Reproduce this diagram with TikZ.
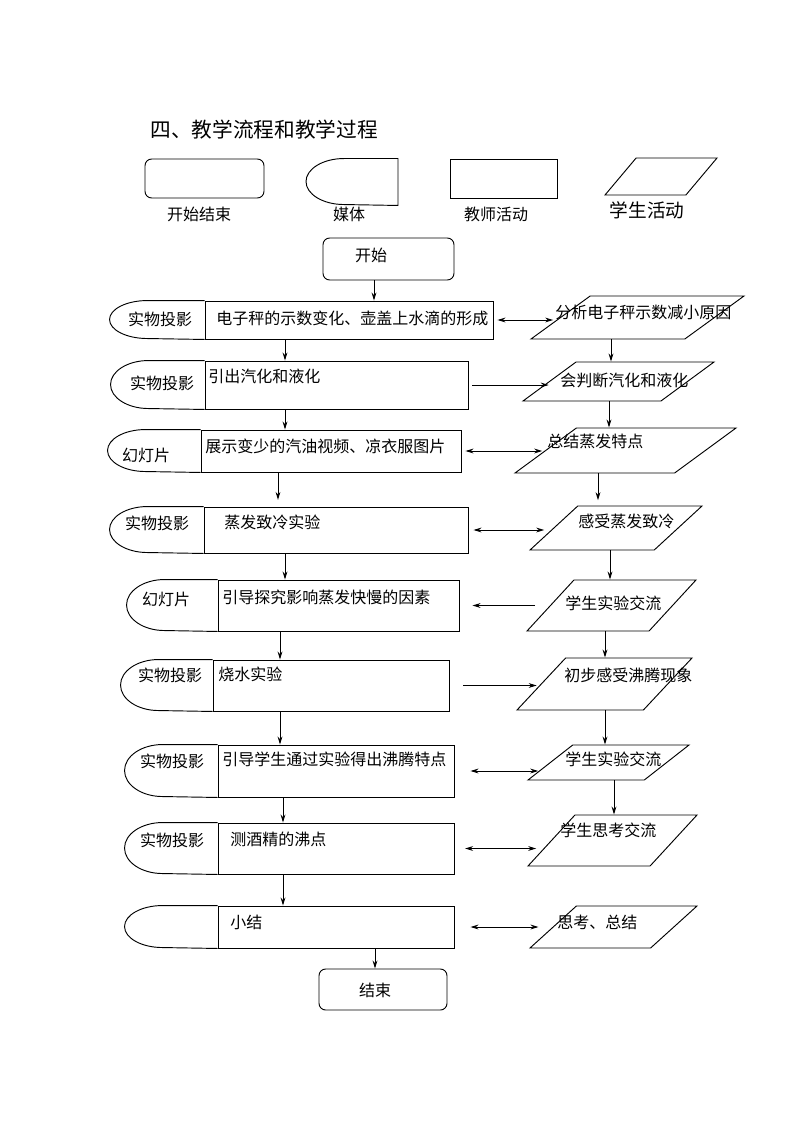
\documentclass[tikz,border=0pt]{standalone}
\usepackage{fontspec}
\newfontfamily\cjk{Noto Sans CJK SC}
\usetikzlibrary{arrows.meta,shapes.geometric}

\begin{document}
\begin{tikzpicture}[
    x=0.75pt, y=-0.75pt, line width=0.7pt,
    endbox/.style 2 args={draw, rounded corners=5pt, inner sep=0pt,
      minimum width=#1*0.75pt, minimum height=#2*0.75pt},
    teachbox/.style 2 args={draw, inner sep=0pt,
      minimum width=#1*0.75pt, minimum height=#2*0.75pt},
    studbox/.style 2 args={draw, shape=trapezium, trapezium left angle=58,
      trapezium right angle=122, trapezium stretches=true, inner sep=1pt,
      minimum width=#1*0.75pt, minimum height=#2*0.75pt},
    txt/.style={font=\cjk\fontsize{12pt}{14pt}\selectfont, inner sep=0pt},
    lefttxt/.style={txt, anchor=west},
    arrow/.style={-{Stealth[length=6pt, width=3.6pt]}},
    twoway/.style={{Stealth[length=6pt, width=3.6pt]}-{Stealth[length=6pt, width=3.6pt]}}
  ]
  \useasboundingbox (0,0) rectangle (794,1123);

  % title and legend
  \node[lefttxt, font=\cjk\fontsize{15.5pt}{18pt}\selectfont] (title) at (150,130) {四、教学流程和教学过程};
  \node[endbox={119}{39}] (keyend) at (204.5,178.5) {};
  \node[teachbox={0}{46}, draw=none] (keymedia) at (398,182) {};
  \draw (keymedia.south) -- (keymedia.north) -- ++(-54,0)
    arc[start angle=90, end angle=270, x radius=28.5pt, y radius=17.25pt] -- cycle;
  \node[teachbox={107}{39}] (keyteach) at (503.5,178.5) {};
  \node[studbox={112}{37}] (keystud) at (661,176.5) {};
  \node[txt] (keyendtxt) at (199,214) {开始结束};
  \node[txt] (keymediatxt) at (349,214) {媒体};
  \node[txt] (keyteachtxt) at (496,214) {教师活动};
  \node[txt, font=\cjk\fontsize{14pt}{16pt}\selectfont] (keystudtxt) at (647,210) {学生活动};

  % start and end
  \node[endbox={131}{42}] (start) at (388.5,259) {};
  \node[txt] (starttxt) at (371,255) {开始};
  \node[endbox={128}{41}] (finish) at (383,989.5) {};
  \node[txt] (finishtxt) at (375,990) {结束};

  % teacher column
  \node[teachbox={288}{38}] (teach1) at (349,320) {};
  \node[teachbox={263}{48}] (teach2) at (336.5,385) {};
  \node[teachbox={260}{42}] (teach3) at (331,451) {};
  \node[teachbox={264}{46}] (teach4) at (336,530) {};
  \node[teachbox={241}{51}] (teach5) at (338.5,605.5) {};
  \node[teachbox={236}{51}] (teach6) at (331,685.5) {};
  \node[teachbox={236}{52}] (teach7) at (336,771) {};
  \node[teachbox={236}{51}] (teach8) at (336,848.5) {};
  \node[teachbox={236}{42}] (teach9) at (336,927) {};

  \node[lefttxt] (teach1txt) at (216,318) {电子秤的示数变化、壶盖上水滴的形成};
  \node[lefttxt] (teach2txt) at (208,376) {引出汽化和液化};
  \node[lefttxt] (teach3txt) at (205,446) {展示变少的汽油视频、凉衣服图片};
  \node[lefttxt] (teach4txt) at (224,522) {蒸发致冷实验};
  \node[lefttxt] (teach5txt) at (222,597) {引导探究影响蒸发快慢的因素};
  \node[lefttxt] (teach6txt) at (218,674) {烧水实验};
  \node[lefttxt] (teach7txt) at (222,759) {引导学生通过实验得出沸腾特点};
  \node[lefttxt] (teach8txt) at (230,839) {测酒精的沸点};
  \node[lefttxt] (teach9txt) at (230,922) {小结};

  % media shapes left of the teacher boxes
  \draw (teach1.north west) -- ++(-57,0) arc[start angle=90, end angle=270, x radius=28.5pt, y radius=14.25pt] -- (teach1.south west);
  \draw (teach2.north west) -- ++(-56,0) arc[start angle=90, end angle=270, x radius=28.5pt, y radius=18pt] -- (teach2.south west);
  \draw (teach3.north west) -- ++(-55,0) arc[start angle=90, end angle=270, x radius=28.5pt, y radius=15.75pt] -- (teach3.south west);
  \draw (teach4.north west) -- ++(-56,0) arc[start angle=90, end angle=270, x radius=28.5pt, y radius=17.25pt] -- (teach4.south west);
  \draw (teach5.north west) -- ++(-53,0) arc[start angle=90, end angle=270, x radius=28.5pt, y radius=19.125pt] -- (teach5.south west);
  \draw (teach6.north west) -- ++(-54,0) arc[start angle=90, end angle=270, x radius=28.5pt, y radius=19.125pt] -- (teach6.south west);
  \draw (teach7.north west) -- ++(-55,0) arc[start angle=90, end angle=270, x radius=28.5pt, y radius=19.5pt] -- (teach7.south west);
  \draw (teach8.north west) -- ++(-55,0) arc[start angle=90, end angle=270, x radius=28.5pt, y radius=19.125pt] -- (teach8.south west);
  \draw (teach9.north west) -- ++(-55,0) arc[start angle=90, end angle=270, x radius=28.5pt, y radius=15.75pt] -- (teach9.south west);

  \node[txt] (media1txt) at (160,319) {实物投影};
  \node[txt] (media2txt) at (162,383) {实物投影};
  \node[txt] (media3txt) at (146,455) {幻灯片};
  \node[txt] (media4txt) at (157,523) {实物投影};
  \node[txt] (media5txt) at (166,599) {幻灯片};
  \node[txt] (media6txt) at (170,675) {实物投影};
  \node[txt] (media7txt) at (172,761) {实物投影};
  \node[txt] (media8txt) at (172,840) {实物投影};

  % student column
  \node[studbox={213}{43}] (stud1) at (637.5,317.5) {};
  \node[studbox={191}{39}] (stud2) at (618.5,381.5) {};
  \node[studbox={221}{45}] (stud3) at (625.5,450.5) {};
  \node[studbox={172}{44}] (stud4) at (616,528) {};
  \node[studbox={169}{51}] (stud5) at (611.5,605.5) {};
  \node[studbox={175}{52}] (stud6) at (604.5,684) {};
  \node[studbox={161}{35}] (stud7) at (608.5,762.5) {};
  \node[studbox={169}{51}] (stud8) at (612.5,840.5) {};
  \node[studbox={167}{42}] (stud9) at (613.5,927) {};

  \node[lefttxt] (stud1txt) at (555,312) {分析电子秤示数减小原因};
  \node[lefttxt] (stud2txt) at (560,380) {会判断汽化和液化};
  \node[lefttxt] (stud3txt) at (547,441) {总结蒸发特点};
  \node[lefttxt] (stud4txt) at (578,521) {感受蒸发致冷};
  \node[lefttxt] (stud5txt) at (565,603) {学生实验交流};
  \node[lefttxt] (stud6txt) at (564,675) {初步感受沸腾现象};
  \node[lefttxt] (stud7txt) at (565,759) {学生实验交流};
  \node[lefttxt] (stud8txt) at (560,830) {学生思考交流};
  \node[lefttxt] (stud9txt) at (557,922) {思考、总结};

  % downward arrows
  \draw[arrow] (start.south -| 374,0) -- (teach1.north -| 374,0);
  \draw[arrow] (teach1.south -| 285,0) -- (teach2.north -| 285,0);
  \draw[arrow] (teach2.south -| 285,0) -- (teach3.north -| 285,0);
  \draw[arrow, shorten >=5pt] (teach3.south -| 278,0) -- (teach4.north -| 278,0);
  \draw[arrow] (teach4.south -| 285,0) -- (teach5.north -| 285,0);
  \draw[arrow] (teach5.south -| 280,0) -- (teach6.north -| 280,0);
  \draw[arrow] (teach6.south -| 280,0) -- (teach7.north -| 280,0);
  \draw[arrow] (teach7.south -| 283,0) -- (teach8.north -| 283,0);
  \draw[arrow] (teach8.south -| 283,0) -- (teach9.north -| 283,0);
  \draw[arrow] (teach9.south -| 375,0) -- (finish.north -| 375,0);

  \draw[arrow] (stud1.south -| 611,0) -- (stud2.north -| 611,0);
  \draw[arrow] (stud2.south -| 609,0) -- (stud3.north -| 609,0);
  \draw[arrow, shorten >=4pt] (stud3.south -| 598,0) -- (stud4.north -| 598,0);
  \draw[arrow] (stud4.south -| 610,0) -- (stud5.north -| 610,0);
  \draw[arrow] (stud5.south -| 605,0) -- (stud6.north -| 605,0);
  \draw[arrow] (stud6.south -| 605,0) -- (stud7.north -| 605,0);
  \draw[arrow] (stud7.south -| 614,0) -- (stud8.north -| 614,0);

  % arrows between teacher and student
  \draw[twoway, shorten <=3pt, shorten >=5pt] (teach1.east) -- (teach1.east -| stud1.west);
  \draw[arrow, shorten <=3pt] (teach2.east) -- (teach2.east -| stud2.west);
  \draw[twoway, shorten <=3pt, shorten >=2pt] (teach3.east) -- (teach3.east -| stud3.west);
  \draw[twoway, shorten <=3.75pt, shorten >=6.75pt] (teach4.east) -- (teach4.east -| stud4.west);
  \draw[arrow, shorten <=11pt, shorten >=9.75pt] (teach5.east -| stud5.west) -- (teach5.east);
  \draw[arrow, shorten <=10.5pt, shorten >=3pt] (teach6.east) -- (teach6.east -| stud6.west);
  \draw[twoway, shorten <=12pt, shorten >=8.5pt] (teach7.east) -- (teach7.east -| stud7.west);
  \draw[twoway, shorten <=8pt, shorten >=11pt] (teach8.east) -- (teach8.east -| stud8.west);
  \draw[twoway, shorten <=12pt, shorten >=10.5pt] (teach9.east) -- (teach9.east -| stud9.west);
\end{tikzpicture}
\end{document}
